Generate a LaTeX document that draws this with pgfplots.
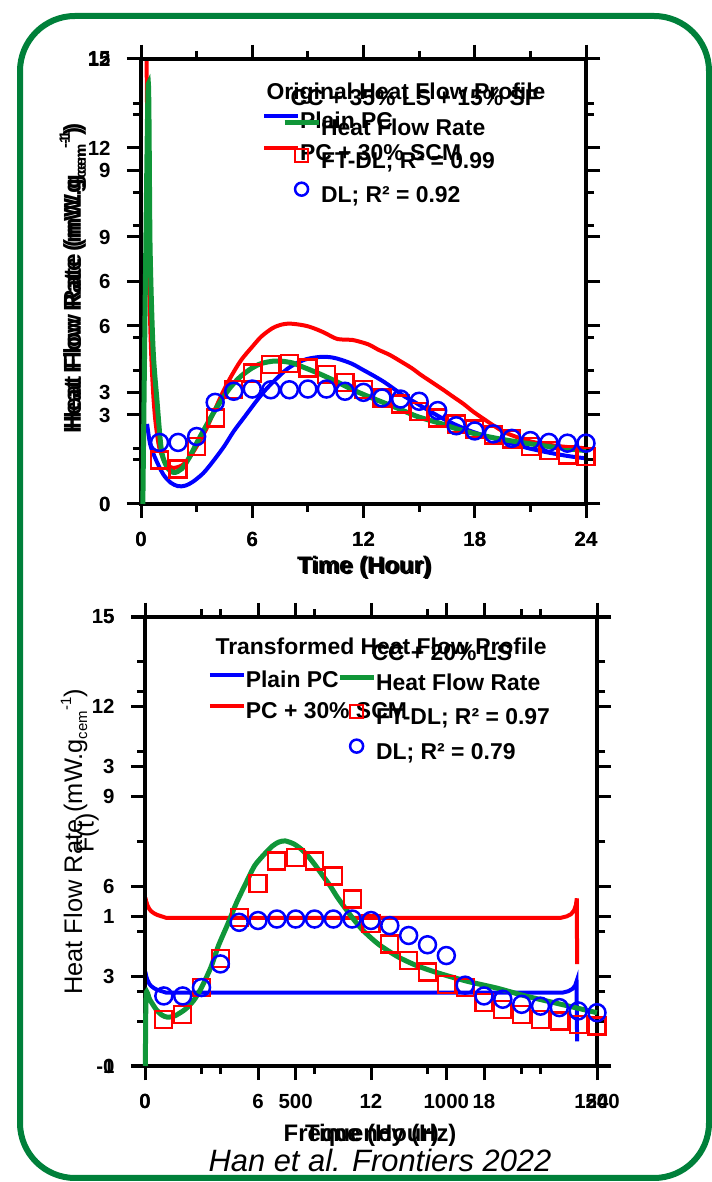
\documentclass[border=0pt]{standalone}
\usepackage{fontspec}
\setmainfont{Liberation Sans}
\usepackage{pgfplots}
\pgfplotsset{compat=1.18}
\definecolor{cblue}{RGB}{0,0,255}
\definecolor{cred}{RGB}{255,0,0}
\definecolor{cgreen}{RGB}{16,150,56}
\definecolor{framegreen}{RGB}{0,128,58}
\pgfplotsset{
  mybase/.style={
    scale only axis, clip=false,
    axis line style={line width=3.5bp},
    tick align=outside,
    major tick length=14bp, minor tick length=8bp,
    tick style={black, line width=3bp},
    minor tick num=1,
    tick label style={font=\fontsize{20.5}{20.5}\selectfont\bfseries},
    xticklabel shift=11bp, yticklabel shift=13bp,
    /pgf/number format/assume math mode=true,
    /pgf/number format/1000 sep={},
    legend style={draw=none, fill=none, inner sep=0pt, outer sep=0pt,
      font=\fontsize{23}{23}\selectfont\bfseries,
      nodes={inner sep=0pt, text height=17bp, text depth=5bp},
      row sep=10bp,
      /tikz/every even column/.append style={column sep=7bp}},
    legend cell align=left,
    legend image code/.code={\draw[mark repeat=2,mark phase=2,##1,mark size=6.5bp] plot coordinates {(0bp,7bp) (17bp,7bp) (34bp,7bp)};},
  },
  sq/.style={only marks, mark=square, mark size=8.5bp, cred, mark options={line width=2.3bp}},
  ci/.style={only marks, mark=o, mark size=8.5bp, cblue, mark options={line width=2.5bp}},
}
\newcommand{\ylab}{Heat Flow Rate (mW.g\raisebox{-5bp}{\fontsize{15}{15}\selectfont cem}\raisebox{11bp}{\fontsize{15}{15}\selectfont -1})}
\begin{document}
\begin{tikzpicture}
\useasboundingbox (0,0) rectangle (712bp,1182bp);
\draw[framegreen, line width=6bp, rounded corners=55bp] (20bp,4bp) rectangle (709bp,1166bp);

% ---------------- TOP PANEL ----------------
\begin{axis}[mybase, at={(141bp,678bp)}, anchor=south west, width=445bp, height=445bp,
  xmin=0, xmax=24, ymin=0, ymax=15, xtick={0,6,...,24}, ytick={0,3,...,15},
  xlabel={Time (Hour)}, ylabel={\ylab},
  xlabel style={at={(axis description cs:0.501,-0.142)}, anchor=center, font=\fontsize{24}{24}\selectfont\bfseries},
  ylabel style={at={(axis description cs:-0.153,0.503)}, anchor=center, font=\fontsize{24.5}{24.5}\selectfont\bfseries},
  legend style={at={(0.272,0.881)}, anchor=north west}]
\addplot[cblue, line width=4bp, smooth, tension=0.5] coordinates {
(0.33,2.7) (0.5,2.0) (0.8,1.5) (1.2,1.0) (1.6,0.72) (2.0,0.6) (2.4,0.62) (2.8,0.75) (3.36,1.04) (3.9,1.45) (4.48,1.94) (5.0,2.45) (5.6,2.95) (6.2,3.45) (6.72,3.85) (7.3,4.22) (7.84,4.53) (8.4,4.75) (8.97,4.89) (9.71,4.96) (10.3,4.94) (10.8,4.86) (11.4,4.72) (11.95,4.53) (12.5,4.34) (13.07,4.13) (13.6,3.9) (14.2,3.63) (14.8,3.42) (15.3,3.23) (16.4,2.84) (17.6,2.5) (18.7,2.27) (19.8,2.07) (20.9,1.88) (22.0,1.73) (23.2,1.6) (24,1.54)};
\addlegendentry{Plain PC}
\addplot[cred, line width=4bp, smooth, tension=0.5] coordinates {
(0.3,15) (0.34,12.5) (0.38,9.7) (0.45,7.2) (0.54,5.2) (0.65,3.8) (0.76,2.9) (0.9,2.2) (1.03,1.8) (1.3,1.4) (1.7,1.22) (2.2,1.3) (2.6,1.55) (3.0,1.94) (3.5,2.5) (3.9,3.06) (4.4,3.75) (4.86,4.3) (5.4,4.85) (6.0,5.3) (6.5,5.65) (7.1,5.93) (7.6,6.05) (8.0,6.08) (8.5,6.05) (9.0,5.99) (9.5,5.88) (9.9,5.77) (10.3,5.64) (10.6,5.56) (11.0,5.54) (11.4,5.53) (11.8,5.47) (12.3,5.37) (12.8,5.2) (13.4,5.03) (14.0,4.81) (14.6,4.58) (15.1,4.35) (15.7,4.1) (16.3,3.85) (16.8,3.63) (17.4,3.37) (17.9,3.12) (18.5,2.86) (19.1,2.61) (19.6,2.42) (20.2,2.27) (20.7,2.16) (21.3,2.07) (22.4,1.96) (23.2,1.91) (24,1.88)};
\addlegendentry{PC + 30\% SCM}
\end{axis}

\begin{axis}[mybase, at={(141bp,678bp)}, anchor=south west, width=445bp, height=445bp,
  xmin=0, xmax=24, ymin=0, ymax=12, xtick={0,6,...,24}, ytick={0,3,...,12},
  xlabel={Time (Hour)}, ylabel={\ylab},
  xlabel style={at={(axis description cs:0.505,-0.144)}, anchor=center, font=\fontsize{24}{24}\selectfont\bfseries},
  ylabel style={at={(axis description cs:-0.153,0.512)}, anchor=center, font=\fontsize{24.5}{24.5}\selectfont\bfseries},
  legend style={at={(0.317,0.867)}, anchor=north west, row sep=9bp}]
\addplot[cgreen, line width=5bp, smooth, tension=0.5] coordinates {
(0.1,0) (0.38,11.2) (0.49,6.9) (0.65,4.2) (0.86,2.8) (1.1,1.46) (1.4,1.0) (1.77,0.85) (2.2,0.95) (2.6,1.25) (3.0,1.64) (3.45,2.05) (3.9,2.45) (4.4,2.85) (4.86,3.17) (5.4,3.45) (6.0,3.67) (6.5,3.79) (7.1,3.85) (7.6,3.85) (8.2,3.8) (8.7,3.7) (9.3,3.58) (9.9,3.45) (10.5,3.31) (11.6,3.04) (12.7,2.81) (13.8,2.59) (14.9,2.36) (16.1,2.18) (17.2,2.0) (18.3,1.86) (19.4,1.75) (20.5,1.66) (21.7,1.57) (22.8,1.5) (24,1.44)};
\addlegendentry{Heat Flow Rate}
\addplot[sq] coordinates {
(1,1.19) (2,0.94) (3,1.55) (4,2.32) (5,3.08) (6,3.53) (7,3.76) (8,3.78) (9,3.67) (10,3.49) (11,3.28) (12,3.08) (13,2.86) (14,2.7) (15,2.5) (16,2.32) (17,2.16) (18,2.02) (19,1.86) (20,1.75) (21,1.55) (22,1.44) (23,1.32) (24,1.28)};
\addlegendentry{FT-DL; R² = 0.99}
\addplot[ci] coordinates {
(1,1.66) (2,1.66) (3,1.82) (4,2.74) (5,3.04) (6,3.1) (7,3.08) (8,3.08) (9,3.1) (10,3.1) (11,3.04) (12,3.01) (13,2.86) (14,2.83) (15,2.77) (16,2.52) (17,2.11) (18,1.97) (19,1.89) (20,1.77) (21,1.71) (22,1.66) (23,1.64) (24,1.64)};
\addlegendentry{DL; R² = 0.92}
\end{axis}
\node[anchor=base west, font=\fontsize{23}{23}\selectfont\bfseries] at (263bp,1082bp) {Original Heat Flow Profile};
\node[anchor=base west, font=\fontsize{23}{23}\selectfont\bfseries] at (287bp,1076bp) {CC + 35\% LS + 15\% SF};

% ---------------- BOTTOM PANEL ----------------
\begin{axis}[mybase, at={(145bp,116bp)}, anchor=south west, width=452bp, height=449bp,
  xmin=0, xmax=1500, ymin=-1, ymax=5, xtick={0,500,1000,1500}, ytick={-1,1,3,5},
  xlabel={Frequency (Hz)}, ylabel={F(t)},
  xlabel style={at={(axis description cs:0.498,-0.154)}, anchor=center, font=\fontsize{24}{24}\selectfont\bfseries},
  ylabel style={at={(axis description cs:-0.128,0.519)}, anchor=center, font=\fontsize{25}{25}\selectfont},
  legend style={at={(0.139,0.880)}, anchor=north west, row sep=9bp}]
\addplot[cblue, line width=4bp] coordinates {
(1,0.26) (4,0.2) (8,0.15) (14,0.1) (20,0.07) (30,0.04) (40,0.02) (55,0.0) (70,-0.02) (1385,-0.02) (1405,0.0) (1418,0.03) (1427,0.07) (1432,0.13) (1434,-0.67)};
\addlegendentry{Plain PC}
\addplot[cred, line width=4bp] coordinates {
(1,1.25) (4,1.2) (8,1.15) (14,1.1) (20,1.07) (30,1.04) (40,1.02) (55,1.0) (70,0.98) (1380,0.98) (1400,1.0) (1414,1.03) (1424,1.08) (1430,1.15) (1433,1.24) (1434,0.36)};
\addlegendentry{PC + 30\% SCM}
\end{axis}

\begin{axis}[mybase, at={(145bp,116bp)}, anchor=south west, width=452bp, height=449bp,
  xmin=0, xmax=24, ymin=0, ymax=15, xtick={0,6,...,24}, ytick={0,3,...,15},
  xlabel={Time (Hour)}, ylabel={\ylab},
  xlabel style={at={(axis description cs:0.502,-0.154)}, anchor=center, font=\fontsize{24}{24}\selectfont\bfseries},
  ylabel style={at={(axis description cs:-0.157,0.499)}, anchor=center, font=\fontsize{25.5}{25.5}\selectfont},
  legend style={at={(0.425,0.875)}, anchor=north west, row sep=10bp}]
\addplot[cgreen, line width=5bp, smooth, tension=0.4] coordinates {
(0.02,0) (0.06,2.4) (0.25,2.22) (0.6,1.88) (0.9,1.7) (1.2,1.63) (1.6,1.68) (2.15,1.9) (2.6,2.2) (3.0,2.62) (3.5,3.3) (3.9,4.02) (4.4,4.75) (4.87,5.47) (5.35,6.1) (5.82,6.69) (6.3,7.05) (6.77,7.35) (7.1,7.48) (7.44,7.52) (7.9,7.42) (8.3,7.24) (8.7,6.98) (9.06,6.69) (9.45,6.35) (9.83,6.02) (10.2,5.65) (10.6,5.3) (11.05,4.92) (11.5,4.58) (12.0,4.28) (12.5,4.02) (13.45,3.64) (14.4,3.36) (15.4,3.14) (16.3,2.97) (17.3,2.8) (18.7,2.6) (20.2,2.34) (22.1,2.06) (24,1.78)};
\addlegendentry{Heat Flow Rate}
\addplot[sq] coordinates {
(1,1.56) (2,1.73) (3,2.62) (4,3.6) (5,4.97) (6,6.1) (7,6.85) (8,6.96) (9,6.85) (10,6.35) (11,5.58) (12,4.75) (13,4.08) (14,3.53) (15,3.14) (16,2.72) (17,2.62) (18,2.12) (19,1.89) (20,1.73) (21,1.56) (22,1.5) (23,1.39) (24,1.34)};
\addlegendentry{FT-DL; R² = 0.97}
\addplot[ci] coordinates {
(1,2.34) (2,2.34) (3,2.62) (4,3.41) (5,4.8) (6,4.86) (7,4.91) (8,4.91) (9,4.91) (10,4.91) (11,4.91) (12,4.86) (13,4.69) (14,4.36) (15,4.05) (16,3.69) (17,2.7) (18,2.34) (19,2.23) (20,2.06) (21,2.0) (22,1.95) (23,1.84) (24,1.78)};
\addlegendentry{DL; R² = 0.79}
\end{axis}
\node[anchor=base west, font=\fontsize{23}{23}\selectfont\bfseries] at (212bp,527bp) {Transformed Heat Flow Profile};
\node[anchor=base west, font=\fontsize{23}{23}\selectfont\bfseries] at (368bp,521bp) {CC + 20\% LS};

\node[anchor=base, font=\fontsize{31}{31}\selectfont\itshape] at (380bp,11bp) {Han et al. Frontiers 2022};
\end{tikzpicture}
\end{document}
